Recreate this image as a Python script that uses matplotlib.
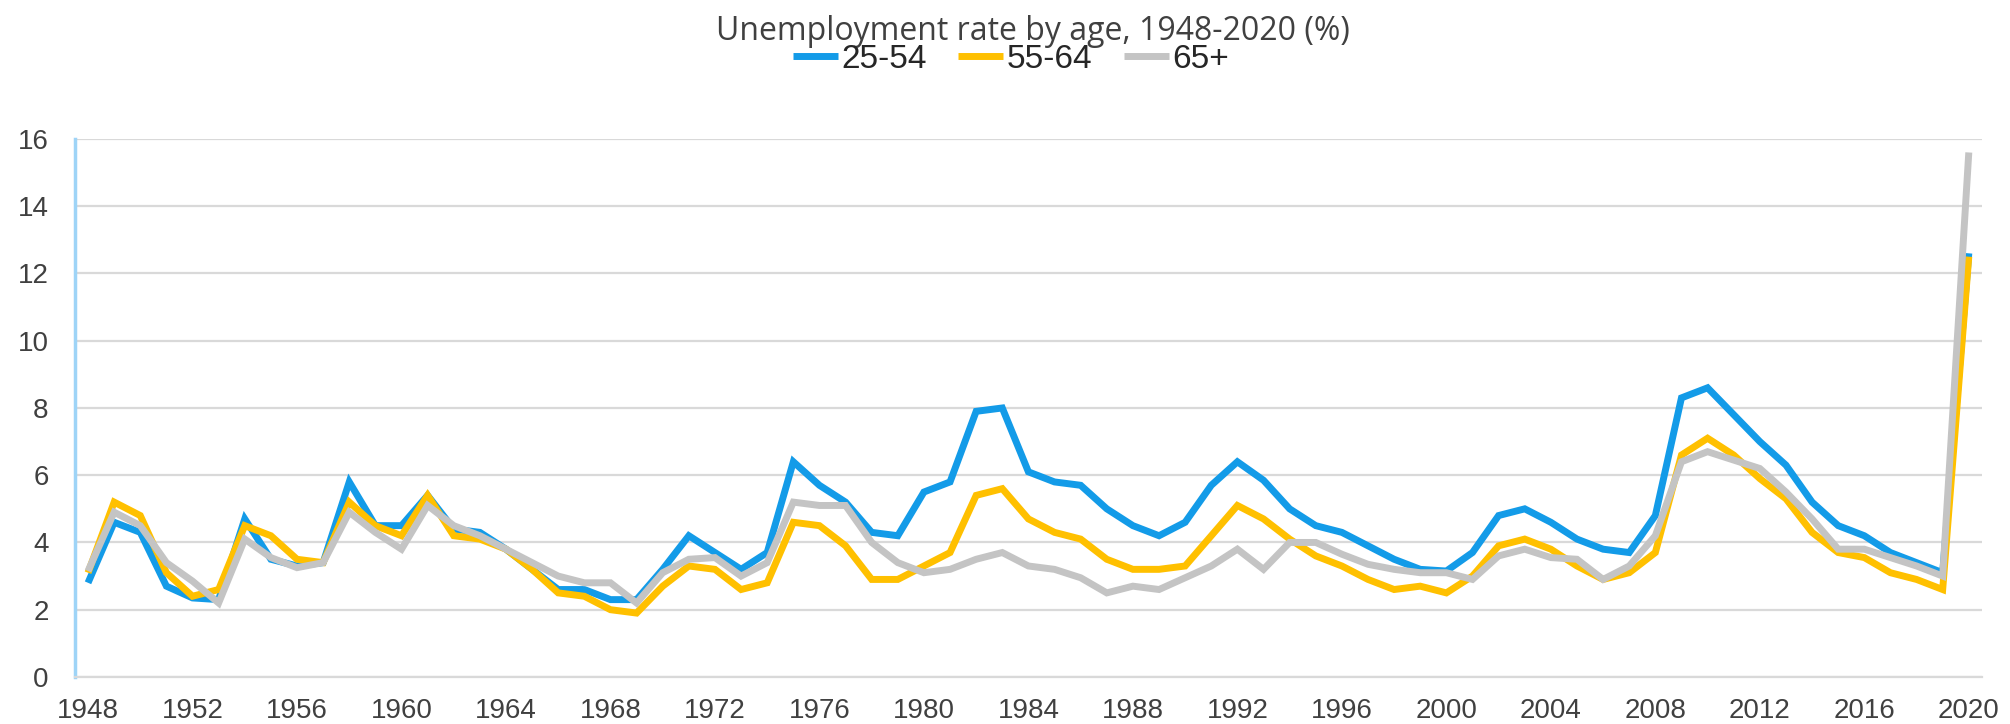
import matplotlib
matplotlib.use("Agg")
import matplotlib.pyplot as plt
import numpy as np

# Unemployment rate by age group (%), annual 1948-2020
years = list(range(1948, 2021))

age_25_54 = [2.8, 4.6, 4.3, 2.7, 2.35, 2.3, 4.7, 3.5, 3.3, 3.4,
             5.8, 4.5, 4.5, 5.4, 4.4, 4.3, 3.8, 3.2, 2.6, 2.6,
             2.3, 2.3, 3.2, 4.2, 3.7, 3.2, 3.7, 6.4, 5.7, 5.2,
             4.3, 4.2, 5.5, 5.8, 7.9, 8.0, 6.1, 5.8, 5.7, 5.0,
             4.5, 4.2, 4.6, 5.7, 6.4, 5.85, 5.0, 4.5, 4.3, 3.9,
             3.5, 3.2, 3.15, 3.7, 4.8, 5.0, 4.6, 4.1, 3.8, 3.7,
             4.8, 8.3, 8.6, 7.8, 7.0, 6.3, 5.2, 4.5, 4.2, 3.7,
             3.4, 3.1, 12.6]

age_55_64 = [3.1, 5.2, 4.8, 3.1, 2.4, 2.6, 4.5, 4.2, 3.5, 3.4,
             5.2, 4.5, 4.2, 5.4, 4.2, 4.1, 3.8, 3.2, 2.5, 2.4,
             2.0, 1.9, 2.7, 3.3, 3.2, 2.6, 2.8, 4.6, 4.5, 3.9,
             2.9, 2.9, 3.3, 3.7, 5.4, 5.6, 4.7, 4.3, 4.1, 3.5,
             3.2, 3.2, 3.3, 4.2, 5.1, 4.7, 4.1, 3.6, 3.3, 2.9,
             2.6, 2.7, 2.5, 3.0, 3.9, 4.1, 3.8, 3.3, 2.9, 3.1,
             3.7, 6.6, 7.1, 6.6, 5.9, 5.3, 4.3, 3.7, 3.55, 3.1,
             2.9, 2.6, 12.5]

age_65_plus = [3.15, 4.9, 4.5, 3.4, 2.85, 2.2, 4.1, 3.55, 3.25, 3.4,
               4.9, 4.3, 3.8, 5.1, 4.5, 4.2, 3.8, 3.4, 3.0, 2.8,
               2.8, 2.2, 3.1, 3.5, 3.55, 3.0, 3.4, 5.2, 5.1, 5.1,
               4.0, 3.4, 3.1, 3.2, 3.5, 3.7, 3.3, 3.2, 2.95, 2.5,
               2.7, 2.6, 2.95, 3.3, 3.8, 3.2, 4.0, 4.0, 3.65, 3.35,
               3.2, 3.1, 3.1, 2.9, 3.6, 3.8, 3.55, 3.5, 2.9, 3.3,
               4.2, 6.4, 6.7, 6.45, 6.2, 5.5, 4.7, 3.8, 3.8, 3.55,
               3.3, 3.0, 15.6]

labels = ["25-54", "55-64", "65+"]
colors = ["#139BE8", "#FFC000", "#C4C4C4"]

plt.rcParams['font.family'] = ['Liberation Sans', 'DejaVu Sans']

fig = plt.figure(figsize=(20.10, 7.24), dpi=100)
ax = fig.add_axes([0.0373, 0.065, 0.9487, 0.743])

for series, label, color in zip([age_25_54, age_55_64, age_65_plus], labels, colors):
    ax.plot(years, series, color=color, lw=5, label=label,
            solid_joinstyle='miter', solid_capstyle='butt')

ax.set_xlim(1947.5, 2020.5)
ax.set_ylim(0, 16)
ax.set_xticks(years[::4])
ax.set_yticks(range(0, 17, 2))
ax.tick_params(axis='both', length=0, labelsize=20, labelcolor='#404040')
ax.tick_params(axis='x', pad=15)
ax.tick_params(axis='y', pad=19)

ax.grid(axis='y', color='#D9D9D9', lw=1.6)
ax.set_axisbelow(True)
for side in ['top', 'right']:
    ax.spines[side].set_visible(False)
ax.spines['bottom'].set_color('#D9D9D9')
ax.spines['bottom'].set_linewidth(1.6)
ax.spines['left'].set_color('#9ED4F7')
ax.spines['left'].set_linewidth(2.5)

fig.text(0.514, 0.957, "Unemployment rate by age, 1948-2020 (%)",
         ha='center', va='center', fontsize=23, color='#404040',
         family=['Open Sans', 'DejaVu Sans'])

fig.legend(loc='center', bbox_to_anchor=(0.503, 0.918), ncol=3,
           frameon=False, fontsize=24, handlelength=1.35,
           handletextpad=0.1, columnspacing=0.95,
           labelcolor='#262626')

fig.savefig("out.png", dpi=100)
